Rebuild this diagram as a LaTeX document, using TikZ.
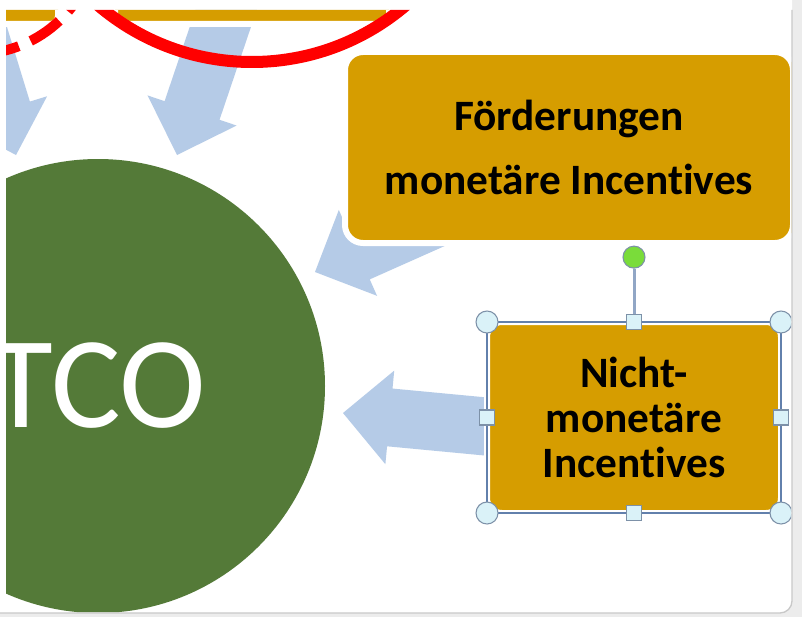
\documentclass[tikz,border=0pt]{standalone}
\usepackage{fontspec}
\setmainfont[Ligatures=NoCommon]{Carlito}
\usetikzlibrary{positioning}
\definecolor{boxgold}{RGB}{214,157,0}
\definecolor{tcogreen}{RGB}{84,122,56}
\definecolor{arrowblue}{RGB}{181,203,231}
\definecolor{ringred}{RGB}{255,0,0}
\definecolor{selblue}{RGB}{98,128,172}
\definecolor{handlefill}{RGB}{218,242,248}
\definecolor{handleedge}{RGB}{125,145,168}
\definecolor{rotgreen}{RGB}{122,220,58}
\definecolor{panelgrey}{RGB}{236,236,236}
\definecolor{paneledge}{RGB}{200,200,200}
\tikzset{
    goldbox/.style={draw=white, line width=4.5pt, fill=boxgold, inner sep=0pt, outer sep=0pt, align=center},
    redring/.style={draw=ringred, line width=9pt},
    cornerhandle/.style={circle, draw=handleedge, fill=handlefill, line width=0.8pt, minimum size=16.5pt, inner sep=0pt},
    edgehandle/.style={rectangle, draw=handleedge, fill=handlefill, line width=0.8pt, minimum size=11.25pt, inner sep=0pt},
}
\begin{document}
\begin{tikzpicture}[x=0.75pt,y=-0.75pt]
    \useasboundingbox (0,0) rectangle (802,617);
    \fill[panelgrey] (0,0) rectangle (802,617);
    \fill[white] (0,0) -- (792,0) -- (792,601) arc[start angle=0, end angle=90, radius=12] -- (0,613) -- cycle;
    \draw[paneledge, line width=1pt] (792,10) -- (792,601) arc[start angle=0, end angle=90, radius=12] -- (0,613);
    \begin{scope}
        \clip (6,10) -- (791,10) -- (791,601) arc[start angle=0, end angle=90, radius=11] -- (6,612) -- cycle;
        \foreach \tx/\ty/\ang in {16/155/72.9,177/155/108.7,315/272/156,343/413/185.4}
            \fill[arrowblue, shift={(\tx,\ty)}, rotate=-\ang] (0,0) -- (-47,-47) -- (-47,-29) -- (-200,-29) -- (-200,29) -- (-47,29) -- (-47,47) -- cycle;
        \draw[goldbox, rounded corners=6pt] (-100,-100) rectangle (58,24);
        \draw[goldbox, rounded corners=6pt] (115,-100) rectangle (389,24);
        \draw[redring] (252,-175) circle[radius=237];
        \draw[redring, line width=7.5pt, dash pattern=on 26.25pt off 9.75pt] (-24,-67) ++(1.1:121) arc[start angle=1.1, end angle=120, radius=121];
        \node[circle, fill=tcogreen, minimum size=340.5pt, inner sep=0pt, text=white, font=\fontsize{98pt}{100pt}\selectfont] (tco) at (98,386) {TCO};
        \node[goldbox, rounded corners=13.5pt, minimum width=336pt, minimum height=143.25pt, font=\fontsize{32.5pt}{48pt}\selectfont\bfseries] (foerd) at (569,147.5) {Förderungen\\monetäre Incentives};
        \node[goldbox, rounded corners=11.25pt, minimum width=220.5pt, minimum height=143.25pt, font=\fontsize{32.5pt}{33.75pt}\selectfont\bfseries] (nicht) at (634,417.5) {Nicht-\\monetäre\\Incentives};
        \draw[selblue, line width=1.5pt] (nicht.north west) rectangle (nicht.south east);
        \node[cornerhandle, fill=rotgreen, above=40pt of nicht.north] (rot) {};
        \draw[selblue!70, line width=2.25pt] (rot) -- (nicht.north);
        \foreach \a/\n in {north west/nw,north east/ne,south west/sw,south east/se}
            \node[cornerhandle] (h\n) at (nicht.\a) {};
        \foreach \a/\n in {north/n,south/s,west/w,east/e}
            \node[edgehandle] (h\n) at (nicht.\a) {};
    \end{scope}
\end{tikzpicture}
\end{document}
